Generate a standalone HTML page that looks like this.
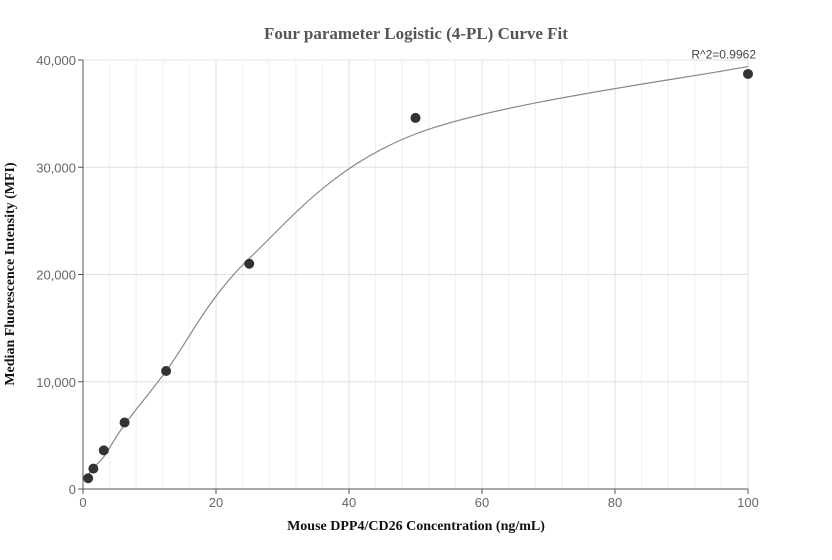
<!DOCTYPE html>
<html><head><meta charset="utf-8"><style>
body{margin:0;background:#fff;}
svg{display:block;font-family:"Liberation Sans",sans-serif;}
</style></head><body>
<svg id="chart" width="832" height="560"></svg>
<script>
const xTicks=[0,20,40,60,80,100];
const yTicks=[0,10000,20000,30000,40000];
const yTickLabels=["0","10,000","20,000","30,000","40,000"];
const pointX=[0.78,1.56,3.125,6.25,12.5,25,50,100];
const pointY=[1000,1900,3600,6200,11000,21000,34600,38700];
const fitX=[0.78,1.56,3.125,6.25,12.5,25,50,100];
const fitY=[1300,2000,3000,6000,11000,21500,33100,39400];
const r2Label="R^2=0.9962";
const NS="http://www.w3.org/2000/svg";
const svg=document.getElementById('chart');
const L=83,R=748,T=60,B=489;
const sx=v=>L+(v-0)/(100-0)*(R-L);
const sy=v=>B-v/40000*(B-T);
function mk(t,a,p){const e=document.createElementNS(NS,t);for(const k in a)e.setAttribute(k,a[k]);(p||svg).appendChild(e);return e;}
// minor vertical grid
for(let v=4;v<100;v+=4){if(v%20===0)continue;
const g=mk('line',{x1:sx(v),x2:sx(v),y1:T,y2:B,stroke:'#f0f0f0'});

}
xTicks.forEach(v=>{if(v===0)return;
const g=mk('line',{x1:sx(v),x2:sx(v),y1:T,y2:B,stroke:'#e0e0e0'});

});
yTicks.forEach((v,i)=>{
if(v>0){const g=mk('line',{x1:L,x2:R,y1:sy(v),y2:sy(v),stroke:'#e0e0e0'});

}
const tk=mk('line',{x1:L-5,x2:L,y1:sy(v),y2:sy(v),stroke:'#555'});


const t=mk('text',{x:L-7,y:sy(v)+5,'text-anchor':'end','font-size':13,fill:'#666'});
t.textContent=yTickLabels[i];

});
xTicks.forEach(v=>{
const tk=mk('line',{x1:sx(v),x2:sx(v),y1:B,y2:B+5,stroke:'#555'});


const t=mk('text',{x:sx(v),y:B+18,'text-anchor':'middle','font-size':13,fill:'#666'});
t.textContent=v;

});
const ya=mk('line',{x1:L,x2:L,y1:T,y2:B,stroke:'#555'});


const xa=mk('line',{x1:L,x2:R,y1:B,y2:B,stroke:'#555'});


// curve (Catmull-Rom)
const P=fitX.map((x,i)=>[sx(x),sy(fitY[i])]);
let d=`M${P[0][0]},${P[0][1]}`;
for(let i=0;i<P.length-1;i++){const p0=P[Math.max(0,i-1)],p1=P[i],p2=P[i+1],p3=P[Math.min(P.length-1,i+2)];
const c1=[p1[0]+(p2[0]-p0[0])/6,p1[1]+(p2[1]-p0[1])/6],c2=[p2[0]-(p3[0]-p1[0])/6,p2[1]-(p3[1]-p1[1])/6];
d+=` C${c1[0]},${c1[1]} ${c2[0]},${c2[1]} ${p2[0]},${p2[1]}`;}
const c=mk('path',{d:d,fill:'none',stroke:'#888','stroke-width':1.2});


pointX.forEach((x,i)=>{const p=mk('circle',{cx:sx(x),cy:sy(pointY[i]),r:5,fill:'#333'});

});
const r2=mk('text',{x:sx(fitX[fitX.length-1])+8,y:sy(fitY[fitY.length-1])-8,'text-anchor':'end','font-size':12,fill:'#444'});
r2.textContent=r2Label;


const ti=mk('text',{x:416,y:39,'text-anchor':'middle','font-size':17,'font-weight':'bold',fill:'#555','font-family':'Liberation Serif,serif'});
ti.textContent='Four parameter Logistic (4-PL) Curve Fit';


const xt=mk('text',{x:416,y:530,'text-anchor':'middle','font-size':14,'font-weight':'bold',fill:'#111','font-family':'Liberation Serif,serif'});
xt.textContent='Mouse DPP4/CD26 Concentration (ng/mL)';


const yt=mk('text',{x:0,y:0,transform:'translate(14,274) rotate(-90)','text-anchor':'middle','font-size':14,'font-weight':'bold',fill:'#111','font-family':'Liberation Serif,serif'});
yt.textContent='Median Fluorescence Intensity (MFI)';


</script>
</body></html>
